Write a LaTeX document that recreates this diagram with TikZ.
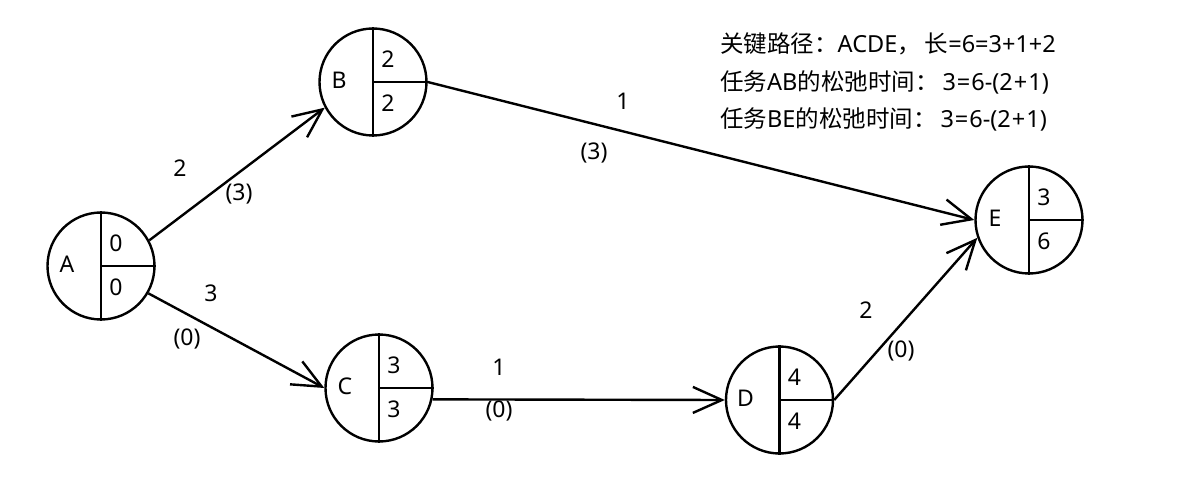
\documentclass[tikz,border=0pt]{standalone}
\usepackage{fontspec}
\setmainfont{Noto Sans}
\newfontfamily\cjkfont{Noto Sans CJK SC}
\newcommand\zh[1]{{\cjkfont #1}}
\newcommand\opsp[1]{\kern1pt#1\kern1pt}
\usetikzlibrary{arrows.meta}
\tikzset{
  evnode/.style={circle,draw,line width=2.4pt,minimum size=107pt,inner sep=0pt},
  divline/.style={line width=2.4pt},
  arr/.style={line width=2.4pt,-{Straight Barb[length=29pt,width=26pt,line width=2.4pt]}},
  lbl/.style={font=\fontsize{23}{27}\selectfont,inner sep=0pt},
  note/.style={font=\fontsize{23.5}{28}\selectfont,inner sep=0pt,anchor=west}
}
\newcommand\evnodedraw[5]{%
  \node[evnode] (#1) at (#2) {};
  \draw[divline] (#1.north) -- (#1.south);
  \draw[divline] (#1.center) -- (#1.east);
  \node[lbl] (#1-name) at ([shift={(-34,-2)}]#1.center) {#3};
  \node[lbl] (#1-top) at ([shift={(15,-23)}]#1.center) {#4};
  \node[lbl] (#1-bot) at ([shift={(15,21)}]#1.center) {#5};
}
\begin{document}
\begin{tikzpicture}[x=1pt,y=-1pt]
\useasboundingbox (0,0) rectangle (1204,478);
\evnodedraw{A}{101,266}{A}{0}{0}
\evnodedraw{B}{373,82}{B}{2}{2}
\evnodedraw{C}{379,388}{C}{3}{3}
\evnodedraw{D}{779.5,400}{D}{4}{4}
\evnodedraw{E}{1029,220}{E}{3}{6}
\draw[arr] (A.28) -- (B.208);
\draw[arr] (A.-30) -- (C.west);
\draw[arr] (B.east) -- (E.west);
\draw[arr] (C.-12) -- (D.west);
\draw[arr] (D.east) -- (E.199);
\node[lbl] (ab-w) at (180,168) {2};
\node[lbl] (ab-s) at (239,194) {(3)};
\node[lbl] (ac-w) at (211,293) {3};
\node[lbl] (ac-s) at (187,339) {(0)};
\node[lbl] (be-w) at (623,101) {1};
\node[lbl] (be-s) at (594,153) {(3)};
\node[lbl] (cd-w) at (499,367) {1};
\node[lbl] (cd-s) at (499,411) {(0)};
\node[lbl] (de-w) at (866,310) {2};
\node[lbl] (de-s) at (901,351) {(0)};
\node[note] (n1) at (720,44) {\zh{关键路径：}ACDE\zh{，}\kern4pt\zh{长}=6=3+1+2};
\node[note] (n2) at (720,82) {\zh{任务}AB\zh{的松弛时间：}\kern4pt 3\opsp{=}6-(2\opsp{+}1)};
\node[note] (n3) at (720,119) {\zh{任务}BE\zh{的松弛时间：}\kern4pt 3\opsp{=}6-(2\opsp{+}1)};
\end{tikzpicture}
\end{document}
